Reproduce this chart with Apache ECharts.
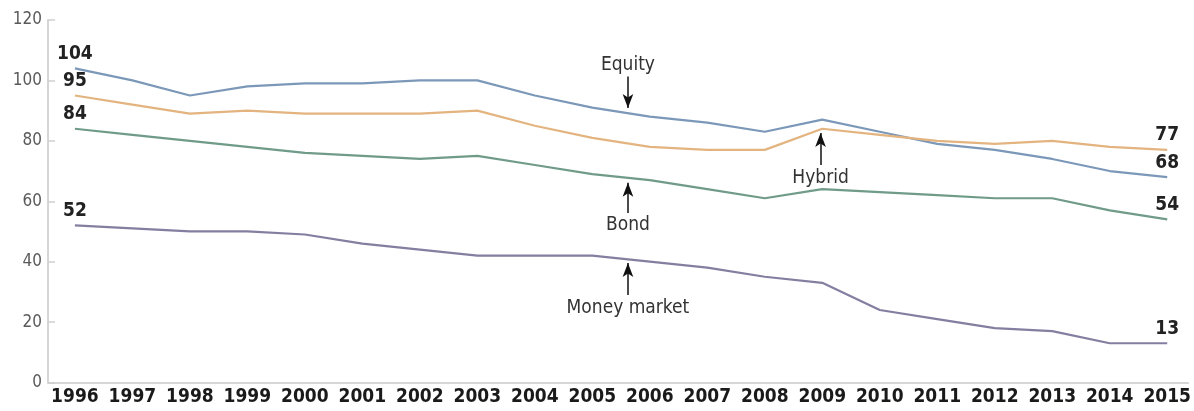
<!DOCTYPE html>
<html>
<head>
<meta charset="utf-8">
<script src="https://cdn.jsdelivr.net/npm/echarts@6/dist/echarts.min.js"></script>
<style>
html,body{margin:0;padding:0;background:#fff;}
#chart{width:1194px;height:411px;}
</style>
</head>
<body>
<div id="chart"></div>
<script>
const years = [1996,1997,1998,1999,2000,2001,2002,2003,2004,2005,2006,2007,2008,2009,2010,2011,2012,2013,2014,2015];
const equity = [104,100,95,98,99,99,100,100,95,91,88,86,83,87,83,79,77,74,70,68];
const hybrid = [95,92,89,90,89,89,89,90,85,81,78,77,77,84,82,80,79,80,78,77];
const bond   = [84,82,80,78,76,75,74,75,72,69,67,64,61,64,63,62,61,61,57,54];
const money  = [52,51,50,50,49,46,44,42,42,42,40,38,35,33,24,21,18,17,13,13];
const yTicks = [0,20,40,60,80,100,120];

const FONT = '"DejaVu Sans Condensed","Liberation Sans Narrow","DejaVu Sans",sans-serif';

// annotations: [label, x, textY, tailY, tipY]
const notes = [
  ['Equity', 2005.62, 105.1, 101.3, 90.9],
  ['Bond', 2005.62, 52.2, 56.1, 66.1],
  ['Money market', 2005.62, 24.7, 29.0, 39.6],
  ['Hybrid', 2008.97, 67.7, 72.0, 82.6]
];

function mk(name, vals, color){
  const last = vals.length - 1;
  return {
    name: name, type: 'line',
    data: years.map((y,i)=>[y, vals[i]]),
    showSymbol: true, symbol: 'circle', symbolSize: 0,
    lineStyle: {color: color, width: 2.2},
    itemStyle: {color: color},
    label: {
      show: true, position: 'top', distance: 5,
      fontFamily: FONT, fontWeight: 'bold', fontSize: 19, color: '#222',
      formatter: p => (p.dataIndex === 0 || p.dataIndex === last) ? String(p.value[1]) : ''
    },
    emphasis: {disabled: true},
    z: 3
  };
}

const chart = echarts.init(document.getElementById('chart'));
chart.setOption({
  animation: false,
  backgroundColor: '#fff',
  grid: {left: 48, right: 2, top: 20, bottom: 28.5},
  xAxis: {
    type: 'value', min: 1995.532, max: 2015.364,
    axisLine: {show: true, lineStyle: {color: '#d6d6d6', width: 2}},
    axisTick: {show: false},
    splitLine: {show: false},
    axisLabel: {
      customValues: years, formatter: v => String(Math.round(v)),
      fontFamily: FONT, fontWeight: 'bold', fontSize: 19, color: '#1a1a1a', margin: 5
    }
  },
  yAxis: {
    type: 'value', min: 0, max: 120, interval: 20,
    axisLine: {show: true, lineStyle: {color: '#d6d6d6', width: 2}},
    axisTick: {show: true, inside: true, length: 7, lineStyle: {color: '#cfcfcf', width: 1.5}},
    splitLine: {show: false},
    axisLabel: {
      customValues: yTicks,
      fontFamily: FONT, fontSize: 17, color: '#5a5a5a', margin: 6
    }
  },
  series: [
    mk('Equity', equity, '#7c98b9'),
    mk('Hybrid', hybrid, '#e3b47f'),
    mk('Bond', bond, '#6f9b88'),
    mk('Money market', money, '#847ea0'),
    {
      type: 'line', data: [], silent: true,
      markLine: {
        silent: true, animation: false,
        symbol: ['none', 'arrow'], symbolSize: [8, 14],
        lineStyle: {color: '#111', width: 1.5, type: 'solid'},
        label: {show: false},
        data: notes.map(n => [{coord: [n[1], n[3]]}, {coord: [n[1], n[4]]}])
      },
      markPoint: {
        silent: true, animation: false,
        symbol: 'circle', symbolSize: 0,
        label: {show: true, position: 'inside', fontFamily: FONT, fontSize: 19, color: '#333',
                formatter: p => p.name},
        data: notes.map(n => ({name: n[0], coord: [n[1], n[2]]}))
      }
    }
  ]
});
</script>
</body>
</html>
